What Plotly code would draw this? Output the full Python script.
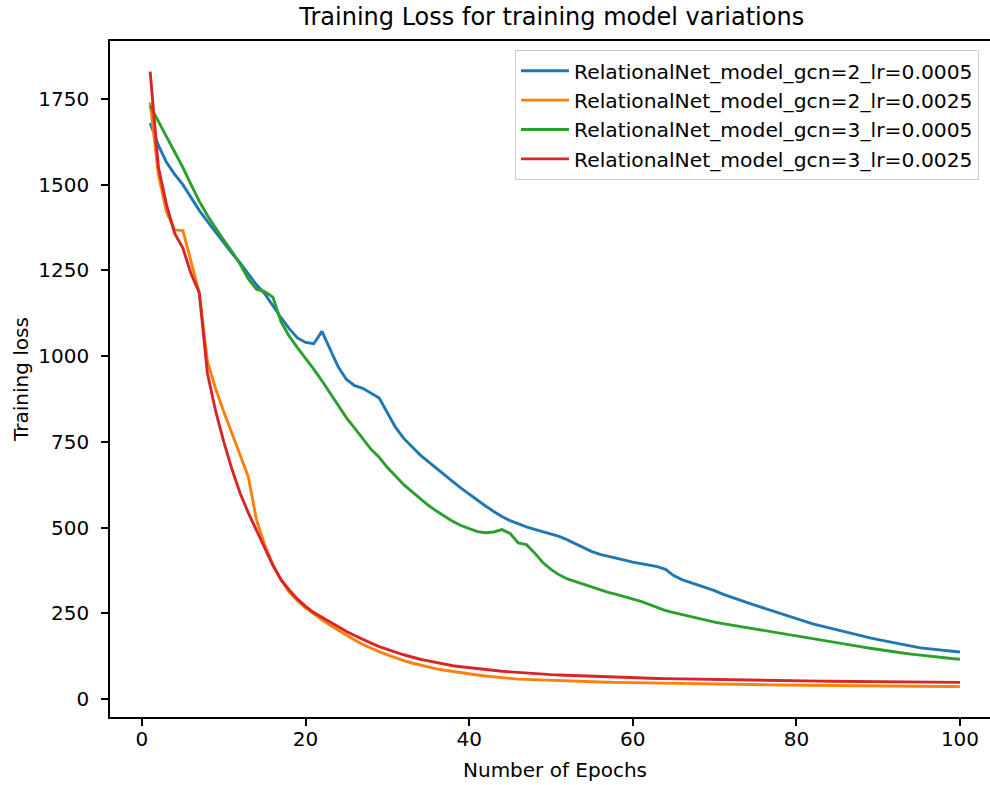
import plotly.graph_objects as go

epochs = list(range(1, 101))

names = [
    "RelationalNet_model_gcn=2_lr=0.0005",
    "RelationalNet_model_gcn=2_lr=0.0025",
    "RelationalNet_model_gcn=3_lr=0.0005",
    "RelationalNet_model_gcn=3_lr=0.0025",
]

loss_gcn2_lr0005 = [
    1680, 1615, 1565, 1530, 1500, 1462, 1425, 1393, 1362, 1330,
    1300, 1272, 1240, 1208, 1182, 1145, 1112, 1080, 1053, 1040,
    1036, 1072, 1018, 968, 932, 914, 906, 893, 878, 835,
    792, 760, 735, 712, 692, 672, 652, 634, 615, 597,
    580, 563, 547, 532, 520, 510, 502, 495, 488, 481,
    474, 464, 452, 440, 430, 422, 417, 411, 405, 399,
    394, 390, 386, 378, 360, 348, 340, 333, 326, 316,
    306, 297, 289, 281, 273, 265, 258, 250, 242, 234,
    226, 219, 213, 207, 200, 194, 188, 183, 178, 173,
    168, 163, 158, 154, 150, 147, 144, 141, 139, 137,
]

loss_gcn2_lr0025 = [
    1740, 1530, 1420, 1368, 1366, 1272, 1185, 985, 905, 838,
    775, 715, 648, 522, 450, 392, 347, 312, 287, 266,
    248, 231, 215, 200, 186, 172, 159, 148, 138, 129,
    120, 112, 105, 99, 93, 88, 84, 80, 76, 73,
    70, 67, 64, 62, 60, 58, 57, 56, 55, 54,
    53, 52, 51, 50.5, 50, 49.5, 49, 48.5, 48, 47.5,
    47, 46.6, 46.2, 45.8, 45.4, 45, 44.6, 44.2, 43.8, 43.4,
    43, 42.7, 42.4, 42.1, 41.8, 41.5, 41.2, 40.9, 40.6, 40.3,
    40, 39.8, 39.6, 39.4, 39.2, 39, 38.8, 38.6, 38.4, 38.2,
    38, 37.8, 37.6, 37.4, 37.2, 37, 36.8, 36.6, 36.4, 36.2,
]

loss_gcn3_lr0005 = [
    1730, 1685, 1640, 1595, 1550, 1500, 1452, 1410, 1372, 1338,
    1305, 1268, 1225, 1195, 1188, 1172, 1100, 1058, 1025, 995,
    962, 928, 892, 855, 820, 790, 760, 728, 705, 675,
    650, 625, 605, 585, 565, 548, 532, 518, 506, 496,
    488, 485, 487, 494, 483, 455, 450, 426, 398, 378,
    362, 350, 342, 334, 326, 318, 311, 305, 299, 293,
    285, 276, 266, 258, 252, 246, 240, 234, 229, 224,
    220, 216, 212, 208, 204, 200, 196, 191, 186, 182,
    178, 175, 172, 168, 164, 160, 156, 152, 148, 144,
    140, 137, 134, 131, 128, 126, 124, 121, 118, 116,
]

loss_gcn3_lr0025 = [
    1830, 1552, 1442, 1358, 1315, 1240, 1185, 950, 840, 750,
    670, 600, 543, 493, 443, 390, 348, 318, 292, 270,
    252, 238, 224, 210, 197, 185, 173, 163, 153, 144,
    137, 129, 122, 116, 111, 106, 101, 97, 94, 91,
    88, 85, 83, 81, 79, 77, 75.5, 74, 72.5, 71,
    70, 69, 68, 67, 66, 65, 64, 63, 62, 61.5,
    61, 60.5, 60, 59.5, 59, 58.5, 58, 57.5, 57, 56.5,
    56, 55.6, 55.2, 54.8, 54.4, 54, 53.7, 53.4, 53.1, 52.8,
    52.5, 52.2, 52, 51.8, 51.6, 51.4, 51.2, 51, 50.8, 50.6,
    50.4, 50.2, 50, 49.8, 49.6, 49.4, 49.2, 49, 48.8, 48.6,
]

series = [loss_gcn2_lr0005, loss_gcn2_lr0025, loss_gcn3_lr0005, loss_gcn3_lr0025]
colors = ["#1f77b4", "#ff7f0e", "#2ca02c", "#d62728"]

x_ticks = [0, 20, 40, 60, 80, 100]
y_ticks = [0, 250, 500, 750, 1000, 1250, 1500, 1750]

fig = go.Figure()
for name, vals, col in zip(names, series, colors):
    fig.add_trace(go.Scatter(x=epochs, y=vals, mode="lines", name=name,
                             line=dict(color=col, width=2.9)))

FONT = "DejaVu Sans"
axis_common = dict(
    ticks="outside", ticklen=7, tickwidth=1.5, tickcolor="black",
    showline=True, linecolor="black", linewidth=1.5,
    showgrid=False, zeroline=False, automargin=False,
    tickfont=dict(family=FONT, size=20, color="black"),
)

fig.update_layout(
    width=990, height=785,
    margin=dict(l=110, r=0, t=41, b=68),
    paper_bgcolor="white", plot_bgcolor="white",
    font=dict(family=FONT, size=20, color="black"),
    title=dict(text="Training Loss for training model variations",
               x=0.502, xref="paper", xanchor="center",
               y=1 - 17 / 785, yref="container", yanchor="middle",
               font=dict(family=FONT, size=24, color="black")),
    xaxis=dict(range=[-3.91, 103.67], tickvals=x_ticks, mirror=True,
               ticklabelstandoff=-4, **axis_common),
    yaxis=dict(range=[-52.5, 1919], tickvals=y_ticks,
               ticklabelstandoff=8, **axis_common),
    legend=dict(x=0.4602, y=0.9867, xanchor="left", yanchor="top",
                bgcolor="rgba(255,255,255,0.8)", bordercolor="#cccccc",
                borderwidth=1, font=dict(family=FONT, size=20.3, color="black"),
                itemwidth=48),
    showlegend=True,
    annotations=[
        dict(text="Number of Epochs", xref="paper", yref="paper",
             x=0.5057, y=-(770 - 717) / 676, xanchor="center", yanchor="middle",
             showarrow=False, font=dict(family=FONT, size=20, color="black")),
        dict(text="Training loss", xref="paper", yref="paper",
             x=-(110 - 21) / 880, y=0.4985, xanchor="center", yanchor="middle",
             textangle=-90, showarrow=False,
             font=dict(family=FONT, size=20, color="black")),
    ],
)

fig.write_html("out.html",
               config={"displayModeBar": False},
               post_script="document.body.style.margin='0';document.body.style.overflow='hidden';")
